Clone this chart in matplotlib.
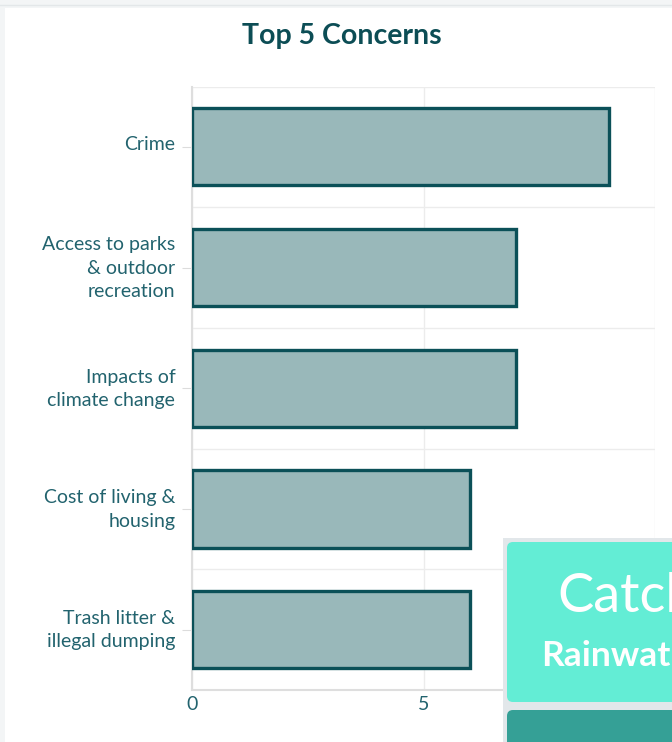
import numpy as np
import matplotlib
matplotlib.use('Agg')
import matplotlib.pyplot as plt
import matplotlib.transforms as mtransforms
from matplotlib.patches import FancyBboxPatch, Rectangle

plt.rcParams['font.family'] = ['Lato', 'DejaVu Sans']

concerns = ['Crime', 'Access to parks\n& outdoor\nrecreation', 'Impacts of\nclimate change',
            'Cost of living &\nhousing', 'Trash litter &\nillegal dumping']
counts = [9, 7, 7, 6, 6]
xticks = [0, 5, 10]

title_clr = '#0c4d55'
text_clr = '#22636e'
bar_clr = '#99b8ba'
edge_clr = '#0b5058'
grid_clr = '#ececec'

W, H = 672, 742
fig = plt.figure(figsize=(W / 100, H / 100), dpi=100)
fig.patch.set_facecolor('#f3f5f6')

# white panel behind the chart
bg = fig.add_axes([0, 0, 1, 1], zorder=0)
bg.set_xlim(0, W)
bg.set_ylim(H, 0)
bg.axis('off')
bg.add_patch(Rectangle((5, 8), W, H, facecolor='white', edgecolor='none'))
bg.plot([0, W], [5, 5], color='#e3e7e9', linewidth=1)

# main chart
ax = fig.add_axes([192 / W, 1 - 690 / H, (655 - 192) / W, (690 - 86.5) / H], zorder=1)
ax.set_facecolor('none')
y = np.arange(len(concerns))
ax.barh(y, counts, height=0.64, color=bar_clr, edgecolor=edge_clr, linewidth=2.4, zorder=3)
ax.set_xlim(0, 10)
ax.set_ylim(len(concerns) - 0.5, -0.5)
ax.set_yticks(y)
ax.set_yticklabels(concerns, fontsize=14, color=text_clr, ha='right', linespacing=1.45)
ax.set_yticks(np.arange(len(concerns) + 1) - 0.5, minor=True)
ax.set_xticks(xticks)
ax.set_xticklabels([str(t) for t in xticks], fontsize=14, color=text_clr)
ax.tick_params(axis='y', which='major', length=7, color='#dcdcdc', pad=5)
ax.tick_params(axis='y', which='minor', length=0)
ax.tick_params(axis='x', length=0, pad=4)
ax.grid(axis='x', color=grid_clr, linewidth=1, zorder=0)
ax.grid(axis='y', which='minor', color=grid_clr, linewidth=1, zorder=0)
for s in ['top', 'right']:
    ax.spines[s].set_visible(False)
ax.spines['left'].set_color('#dedede')
ax.spines['left'].set_linewidth(1.5)
ax.spines['bottom'].set_color('#dedede')
ax.spines['bottom'].set_linewidth(1.5)

# labels sit a little above the tick
shift = mtransforms.ScaledTranslation(0, 4 / 100, fig.dpi_scale_trans)
for lbl in ax.get_yticklabels():
    lbl.set_transform(lbl.get_transform() + shift)

fig.text(342 / W, 1 - 36 / H, 'Top 5 Concerns', ha='center', va='center',
         fontsize=20.5, fontweight='bold', color=title_clr)

# overlapping cards in the lower right corner
ov = fig.add_axes([0, 0, 1, 1], zorder=5)
ov.set_xlim(0, W)
ov.set_ylim(H, 0)
ov.axis('off')
ov.add_patch(Rectangle((503, 538), 200, 220, facecolor='#e2e7ea', edgecolor='none'))
ov.add_patch(FancyBboxPatch((507, 542), 200, 160, boxstyle='round,pad=0,rounding_size=6',
                            facecolor='#63edd5', edgecolor='none'))
ov.add_patch(FancyBboxPatch((507, 710), 200, 60, boxstyle='round,pad=0,rounding_size=6',
                            facecolor='#35a096', edgecolor='none'))
ov.text(557, 597, 'Catch', color='white', fontsize=39, ha='left', va='center')
ov.text(541, 656, 'Rainwat', color='white', fontsize=25.5, fontweight='bold',
        ha='left', va='center')

plt.savefig('out.png', dpi=100)
plt.close()
